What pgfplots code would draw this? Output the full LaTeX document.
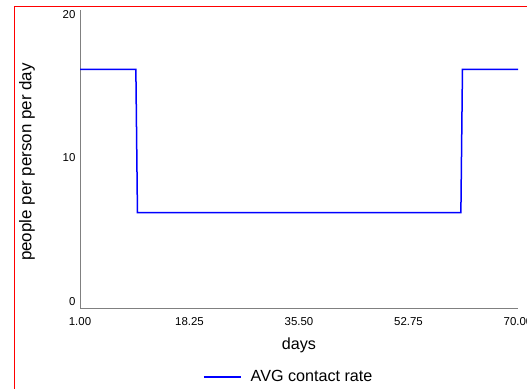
\documentclass[border=0pt]{standalone}
\usepackage{fontspec}
\setmainfont{Liberation Sans}
\usepackage{pgfplots}
\pgfplotsset{compat=1.18}
\definecolor{axgray}{RGB}{128,128,128}
\definecolor{lineblue}{RGB}{0,0,255}
\begin{document}
\begin{tikzpicture}[x=1bp,y=1bp]
\clip (0,0) rectangle (527,388);
\fill[white] (0,0) rectangle (527,388);
\draw[red, line width=1bp] (14,-5) -- (14,381) -- (540,381);
\begin{axis}[
  at={(80bp,80bp)}, anchor=south west,
  scale only axis, width=438bp, height=298bp,
  xmin=1, xmax=70, ymin=-0.64, ymax=20.13,
  axis lines*=left,
  axis line style={axgray, line width=1bp},
  xtick={1,18.25,35.5,52.75,70}, ytick={0,10,20},
  major tick length=0pt,
  /pgf/number format/assume math mode=true,
  xticklabel style={/pgf/number format/.cd, fixed, fixed zerofill, precision=2, /tikz/.cd, yshift=-6bp},
  yticklabel style={yshift=-2.5bp, xshift=-1bp},
  tick label style={font=\fontsize{11.5}{13}\selectfont, text=black},
  xlabel={days}, ylabel={people per person per day},
  label style={font=\fontsize{16.2}{19}\selectfont},
  xlabel style={at={(axis description cs:0.5,-0.124)}, anchor=center},
  ylabel style={at={(axis description cs:-0.121,0.49)}, anchor=center, font=\fontsize{17}{20}\selectfont},
  legend style={draw=none, fill=none, at={(axis description cs:0.2808,-0.2315)}, anchor=west, font=\fontsize{16.2}{19}\selectfont, inner sep=0pt, /tikz/every odd column/.append style={column sep=7bp}},
  legend image code/.code={\draw[#1] (0bp,0bp) -- (37bp,0bp);},
]
\addplot[lineblue, line width=1.5bp] coordinates {(1,16) (9.8,16) (10.05,6) (61,6) (61.25,16) (70,16)};
\addlegendentry{AVG contact rate}
\end{axis}
\end{tikzpicture}
\end{document}
